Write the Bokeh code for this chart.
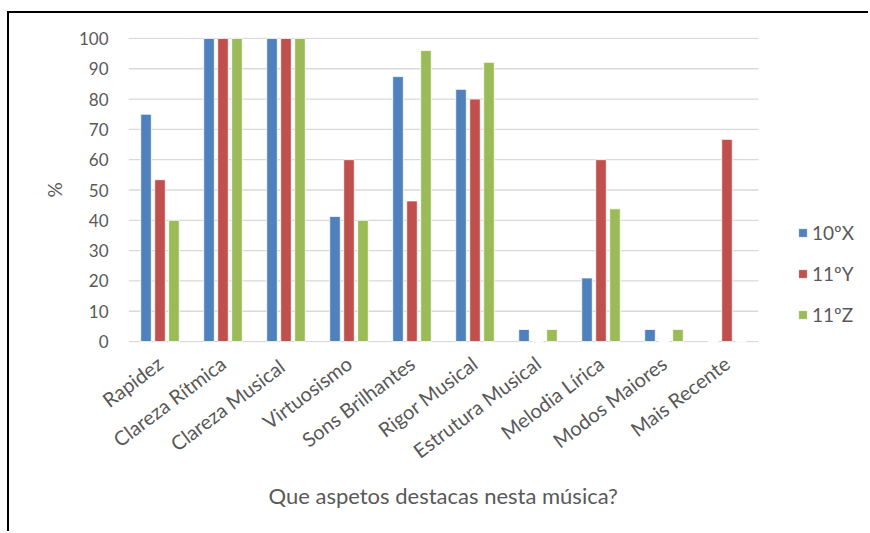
import math
from bokeh.plotting import figure
from bokeh.models import ColumnDataSource, Range1d, Legend, LegendItem, FixedTicker, Title
from bokeh.embed import file_html
from bokeh.resources import INLINE

categories = ["Rapidez", "Clareza Rítmica", "Clareza  Musical", "Virtuosismo", "Sons Brilhantes",
              "Rigor Musical", "Estrutura Musical", "Melodia Lírica", "Modos Maiores", "Mais Recente"]
series_names = ["10ºX", "11ºY", "11ºZ"]
s_10X = [75.0, 100, 100, 41.3, 87.4, 83.2, 4.0, 21.0, 4.0, 0]
s_11Y = [53.4, 100, 100, 60.0, 46.4, 80.0, 0, 60.0, 0, 66.7]
s_11Z = [40.0, 100, 100, 40.0, 96.0, 92.1, 4.0, 43.8, 4.0, 0]
y_ticks = [0, 10, 20, 30, 40, 50, 60, 70, 80, 90, 100]
x_title = "Que aspetos destacas nesta música?"
y_title = "%"
colors = ["#4F81BD", "#C0504D", "#9BBB59"]

FONT = "Lato"
GREY = "#595959"

n = len(categories)
centers = [i + 0.5 for i in range(n)]
series = {"a": s_10X, "b": s_11Y, "c": s_11Z}

# frame 128..870 px wide (742 px), 63 px per category
p = figure(x_range=Range1d(0, 742 / 63.0), y_range=Range1d(-0.3, 100.3),
           width=861, height=520, output_backend="svg", toolbar_location=None,
           min_border_left=119, min_border_right=0, min_border_top=24, min_border_bottom=191)
p.styles = {"margin-left": "7px", "margin-top": "11px",
            "border-top": "2px solid #000000", "border-left": "2px solid #000000"}
p.outline_line_color = None
p.xgrid.grid_line_color = None
p.ygrid.grid_line_color = None

# horizontal gridlines limited to the category area
grid_src = ColumnDataSource(data=dict(y=y_ticks, x0=[0] * len(y_ticks), x1=[n] * len(y_ticks)))
p.segment(x0="x0", x1="x1", y0="y", y1="y", source=grid_src, line_color="#D9D9D9", line_width=1.3)

renderers = []
for key, off, col in zip(["a", "b", "c"], [-0.222, 0.0, 0.222], colors):
    src = ColumnDataSource(data=dict(x=[c + off for c in centers], top=series[key]))
    r = p.vbar(x="x", top="top", width=0.168, source=src,
               fill_color=col, line_color="white", line_width=0.8)
    renderers.append(r)

legend = Legend(items=[LegendItem(label=s, renderers=[r]) for s, r in zip(series_names, renderers)],
                location=(669, 16), orientation="vertical")
legend.border_line_color = None
legend.background_fill_alpha = 0
legend.padding = 0
legend.margin = 0
legend.spacing = 18
legend.glyph_width = 11
legend.glyph_height = 11
legend.label_standoff = 4
legend.label_text_font = FONT
legend.label_text_font_size = "19px"
legend.label_text_color = GREY
legend.label_height = 21
p.add_layout(legend, "center")

p.yaxis.ticker = FixedTicker(ticks=y_ticks)
p.yaxis.axis_line_color = None
p.yaxis.major_tick_line_color = None
p.yaxis.minor_tick_line_color = None
p.yaxis.major_label_standoff = 14
p.yaxis.major_label_text_font = FONT
p.yaxis.major_label_text_font_size = "17px"
p.yaxis.major_label_text_color = GREY
p.yaxis.axis_label = y_title
p.yaxis.axis_label_text_font = FONT
p.yaxis.axis_label_text_font_size = "19px"
p.yaxis.axis_label_text_font_style = "normal"
p.yaxis.axis_label_text_color = GREY
p.yaxis.axis_label_standoff = 10

p.xaxis.ticker = FixedTicker(ticks=centers)
p.xaxis.major_label_overrides = {c: name for c, name in zip(centers, categories)}
p.xaxis.axis_line_color = None
p.xaxis.major_tick_line_color = None
p.xaxis.minor_tick_line_color = None
p.xaxis.major_label_orientation = math.radians(37)
p.xaxis.major_label_standoff = 12
p.xaxis.major_label_text_font = FONT
p.xaxis.major_label_text_font_size = "20px"
p.xaxis.major_label_text_color = GREY

xt = Title(text=x_title, align="left", offset=140, standoff=10,
           text_font=FONT, text_font_size="22px", text_font_style="normal", text_color=GREY)
p.add_layout(xt, "below")

open("out.html", "w").write(file_html(p, INLINE))
